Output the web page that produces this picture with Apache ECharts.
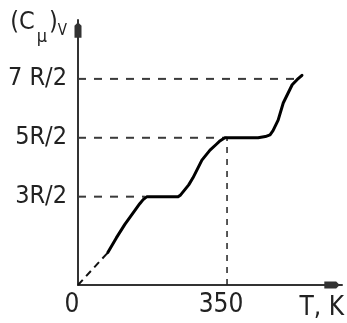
<!DOCTYPE html>
<html><head><meta charset="utf-8">
<script src="https://cdn.jsdelivr.net/npm/echarts@6/dist/echarts.min.js"></script>
<style>html,body{margin:0;padding:0;background:#fff}#c{width:347px;height:323px}</style>
</head><body><div id="c"></div>
<script>
// Data
const xTickValues = [0, 350];
const xTickLabels = ['0', '350'];
const yTickValues = [1.5, 2.5, 3.5];
const yTickLabels = ['3R/2', '5R/2', '7 R/2'];
const xName = 'T, K';
// low-temperature extrapolation (dashed)
const lowT = [0, 70];
const lowC = [0, 0.55];
// measured curve (solid)
const curveT = [70, 90, 110, 129, 145, 153, 162, 235, 241, 251, 260, 270, 291, 310, 325, 334, 345, 423, 440, 451, 458, 470, 482, 503, 515, 526];
const curveC = [0.55, 0.80, 1.03, 1.22, 1.38, 1.45, 1.5, 1.5, 1.53, 1.62, 1.70, 1.82, 2.12, 2.29, 2.39, 2.45, 2.5, 2.5, 2.52, 2.55, 2.62, 2.80, 3.09, 3.40, 3.49, 3.56];
// guide lines
const guideLevels = [1.5, 2.5, 3.5];
const guideEndT = [157, 350, 525];
const markT = 350;
const markC = 2.5;

const FONT = '"Liberation Sans Narrow","DejaVu Sans Condensed","Liberation Sans",sans-serif';
const chart = echarts.init(document.getElementById('c'));

const series = [];
guideLevels.forEach((lv, i) => {
  series.push({
    type: 'line', data: [[0, lv], [guideEndT[i], lv]], symbol: 'none', silent: true,
    lineStyle: { color: '#3a3a3a', width: 2, type: [8, 8] }, z: 1
  });
});
series.push({
  type: 'line', data: [[markT, 0], [markT, markC]], symbol: 'none', silent: true,
  lineStyle: { color: '#222', width: 1.5, type: [6, 6] }, z: 1
});
series.push({
  type: 'line', data: lowT.map((t, i) => [t, lowC[i]]), symbol: 'none',
  lineStyle: { color: '#111', width: 2, type: [7, 5] }, z: 2
});
series.push({
  type: 'line', data: curveT.map((t, i) => [t, curveC[i]]), symbol: 'none', smooth: false,
  lineStyle: { color: '#000', width: 3, join: 'round', cap: 'round' }, z: 3
});

chart.setOption({
  animation: false,
  backgroundColor: '#fff',
  grid: { left: 78, top: 20, right: 4, bottom: 38, containLabel: false },
  xAxis: {
    type: 'value', min: 0, max: 620, interval: 50,
    name: xName, nameLocation: 'end', nameGap: 2,
    nameTextStyle: { fontFamily: FONT, fontSize: 26, color: '#222', align: 'right', verticalAlign: 'top', padding: [10, 0, 0, 0] },
    axisLine: { show: true, onZero: false, lineStyle: { color: '#333', width: 2 },
      symbol: ['none', 'path://M5,0 L10,5 L10,22 L0,22 L0,5 Z'], symbolSize: [7, 21], symbolOffset: [0, -10] },
    axisTick: { show: false },
    splitLine: { show: false },
    axisLabel: {
      margin: 7, fontFamily: FONT, fontSize: 26, color: '#222', padding: [0, 12, 0, 0],
      showMaxLabel: false,
      formatter: v => { const i = xTickValues.indexOf(v); return i >= 0 ? xTickLabels[i] : ''; }
    }
  },
  yAxis: {
    type: 'value', min: 0, max: 4.5, interval: 0.5,
    name: '{p|(C}{mu|μ}{p|)}{v|V}', nameLocation: 'end', nameGap: 10,
    nameTextStyle: {
      align: 'right', verticalAlign: 'top', padding: [0, 11, 0, 0],
      rich: {
        p: { fontFamily: FONT, fontSize: 25, lineHeight: 25, color: '#222', verticalAlign: 'top' },
        mu: { fontFamily: FONT, fontSize: 18, lineHeight: 18, color: '#222', verticalAlign: 'top', padding: [18, 2, 0, 2] },
        v: { fontFamily: FONT, fontSize: 15, lineHeight: 15, color: '#222', verticalAlign: 'top', padding: [14, 0, 0, 0] }
      }
    },
    axisLine: { show: true, onZero: false, lineStyle: { color: '#333', width: 2 },
      symbol: ['none', 'path://M5,0 L10,5 L10,22 L0,22 L0,5 Z'], symbolSize: [7, 21], symbolOffset: [0, -10] },
    axisTick: { show: false },
    splitLine: { show: false },
    axisLabel: {
      margin: 11, fontFamily: FONT, fontSize: 25, color: '#222',
      formatter: v => { const i = yTickValues.indexOf(v); return i >= 0 ? yTickLabels[i] : ''; }
    }
  },
  series: series
});
</script>
</body></html>
